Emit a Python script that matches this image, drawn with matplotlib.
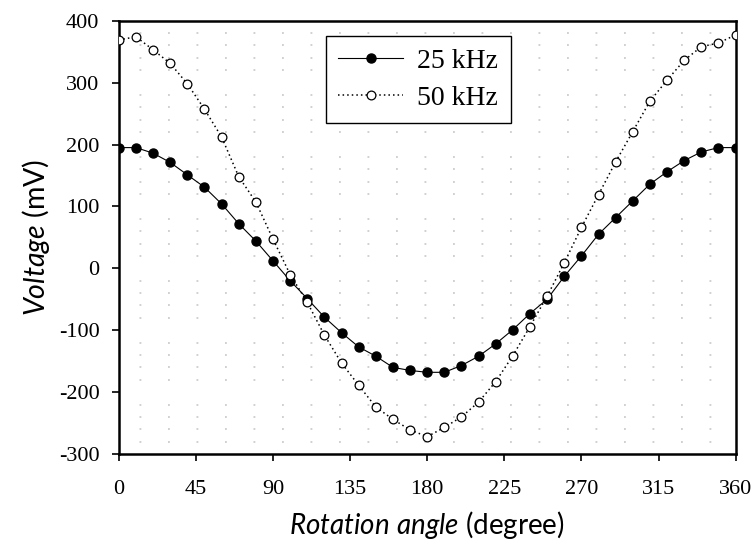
import numpy as np
import matplotlib.pyplot as plt
from matplotlib.ticker import MultipleLocator

plt.rcParams["mathtext.fontset"] = "custom"
plt.rcParams["mathtext.rm"] = "Lato"
plt.rcParams["mathtext.it"] = "Lato:italic"
plt.rcParams["axes.unicode_minus"] = False

angles = list(range(0, 361, 10))
v_25khz = [195, 195, 186, 171, 151, 131, 104, 72, 44, 12, -20, -49, -79,
           -104, -127, -142, -160, -165, -168, -168, -157, -142, -122, -99,
           -73, -50, -13, 20, 55, 82, 109, 136, 156, 174, 188, 195, 195]
v_50khz = [369, 374, 353, 331, 298, 257, 212, 148, 107, 47, -10, -55, -108,
           -153, -189, -224, -244, -261, -272, -257, -240, -216, -183, -141,
           -94, -45, 9, 66, 119, 172, 221, 270, 304, 336, 358, 364, 377]
labels = ["25 kHz", "50 kHz"]

fig = plt.figure(figsize=(7.54, 5.49), dpi=100)
ax = fig.add_axes([0.1576, 0.1730, 0.8180, 0.7893])

ax.plot(angles, v_25khz, color="black", linewidth=0.8, linestyle="-",
        marker="o", markersize=6.5, markerfacecolor="black",
        markeredgecolor="black", label=labels[0], zorder=3)
ax.plot(angles, v_50khz, color="black", linewidth=1.1, linestyle=(0, (1, 2)),
        marker="o", markersize=6.3, markerfacecolor="white",
        markeredgecolor="black", markeredgewidth=0.9, label=labels[1], zorder=4)

ax.set_xlim(0, 360)
ax.set_ylim(-300, 400)
ax.xaxis.set_major_locator(MultipleLocator(45))
ax.yaxis.set_major_locator(MultipleLocator(100))
ax.yaxis.set_minor_locator(MultipleLocator(20))
ax.tick_params(which="minor", length=0)
ax.tick_params(which="major", direction="out", length=5, width=1.2,
               labelsize=16)
ax.tick_params(axis="y", pad=9)
ax.tick_params(axis="x", pad=14)
for lab in ax.get_xticklabels() + ax.get_yticklabels():
    lab.set_fontfamily("Liberation Serif")

# sparse dotted minor grid
ax.grid(which="minor", axis="y", color="#c8c8c8",
        linewidth=1.2, linestyle=(4.8, (1.1, 16.0)))

for sp in ax.spines.values():
    sp.set_linewidth(1.8)

ax.set_xlabel(r"$\mathit{Rotation\ angle}$ (degree)", fontsize=20,
              fontfamily="Lato", labelpad=7)
ax.set_ylabel(r"$\mathit{Voltage}$ (mV)", fontsize=20.5,
              fontfamily="Lato", labelpad=5)

leg = ax.legend(loc="upper left", bbox_to_anchor=(0.3351, 0.9645),
                prop={"family": "Liberation Serif", "size": 20},
                frameon=True, fancybox=False, edgecolor="black",
                framealpha=1, handlelength=2.35, borderpad=0.45,
                labelspacing=0.4, handletextpad=0.5, borderaxespad=0)
leg.get_frame().set_linewidth(1.0)

fig.savefig("out.png", dpi=100)
